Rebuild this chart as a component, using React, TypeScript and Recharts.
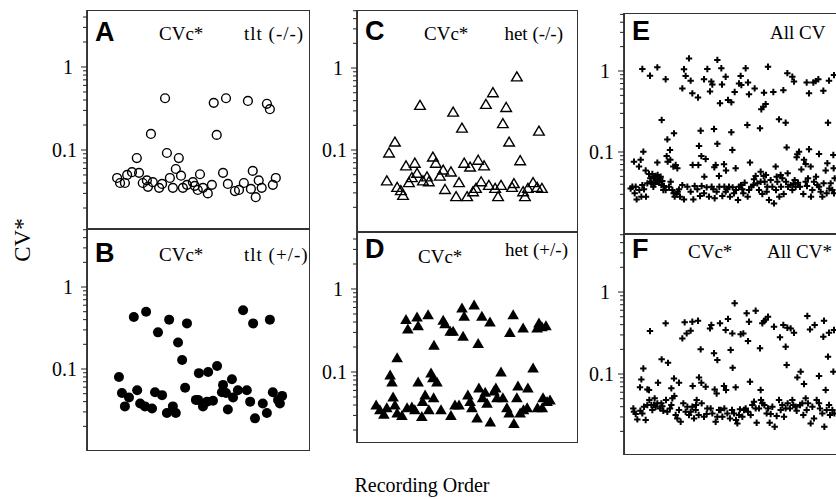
import React from "react";
import { ScatterChart, Scatter, XAxis, YAxis } from "recharts";

// Recording order (x) and CV* (y)
const tltNullOrder = [8.1, 8.9, 10.2, 10.8, 12.1, 13.4, 14.0, 15.0, 16.1, 17.2, 16.4, 17.7, 19.4, 20.2, 21.0, 21.5, 22.3, 23.1, 23.9, 24.7, 25.3, 25.8, 26.9, 28.5, 29.0, 30.4, 29.8, 31.2, 32.5, 33.6, 34.1, 34.9, 36.6, 37.4, 37.9, 39.8, 40.9, 42.2, 43.3, 44.1, 44.6, 45.4, 46.2, 47.0, 48.4, 49.2, 50.0, 50.8];
const tltNullCV = [0.046, 0.040, 0.040, 0.050, 0.054, 0.080, 0.053, 0.040, 0.043, 0.156, 0.036, 0.041, 0.035, 0.039, 0.42, 0.092, 0.046, 0.035, 0.059, 0.080, 0.049, 0.035, 0.038, 0.041, 0.037, 0.051, 0.033, 0.035, 0.030, 0.038, 0.37, 0.152, 0.053, 0.42, 0.039, 0.032, 0.033, 0.040, 0.39, 0.034, 0.056, 0.027, 0.043, 0.035, 0.36, 0.31, 0.038, 0.046];

const tltHetOrder = [8.6, 9.4, 10.2, 11.3, 12.6, 13.5, 14.3, 15.9, 15.6, 17.5, 18.3, 19.1, 20.2, 21.5, 22.1, 23.1, 23.9, 24.5, 25.6, 26.4, 26.9, 29.3, 30.1, 31.2, 32.6, 33.9, 35.0, 36.3, 36.6, 37.9, 39.0, 39.3, 40.6, 42.0, 43.0, 43.9, 44.7, 45.2, 47.3, 48.4, 49.2, 50.0, 51.4, 52.5, 29.9, 32.3, 37.4, 51.9];
const tltHetCV = [0.080, 0.051, 0.035, 0.045, 0.43, 0.055, 0.038, 0.50, 0.035, 0.033, 0.052, 0.28, 0.048, 0.029, 0.40, 0.035, 0.029, 0.21, 0.129, 0.059, 0.36, 0.042, 0.089, 0.035, 0.092, 0.041, 0.109, 0.052, 0.064, 0.032, 0.075, 0.045, 0.055, 0.52, 0.055, 0.040, 0.36, 0.025, 0.038, 0.029, 0.40, 0.052, 0.042, 0.047, 0.042, 0.040, 0.051, 0.038];

const hetNullOrder = [8.1, 8.7, 10.3, 10.9, 11.9, 12.5, 13.3, 14.1, 14.9, 15.7, 16.3, 17.1, 17.9, 19.0, 19.5, 20.6, 21.4, 22.5, 23.4, 23.9, 25.5, 26.1, 26.9, 27.7, 28.5, 29.1, 29.9, 30.7, 31.5, 32.3, 32.9, 33.7, 34.5, 35.0, 35.8, 36.9, 37.5, 38.3, 39.1, 39.6, 40.5, 41.3, 42.1, 42.6, 43.4, 44.3, 45.1, 45.6, 46.4, 47.8, 48.9, 49.4, 50.2];
const hetNullCV = [0.042, 0.092, 0.125, 0.035, 0.032, 0.028, 0.064, 0.040, 0.046, 0.069, 0.052, 0.35, 0.042, 0.047, 0.041, 0.082, 0.069, 0.048, 0.057, 0.033, 0.054, 0.29, 0.027, 0.040, 0.185, 0.069, 0.027, 0.062, 0.031, 0.034, 0.075, 0.041, 0.064, 0.36, 0.037, 0.50, 0.034, 0.027, 0.037, 0.21, 0.33, 0.125, 0.035, 0.039, 0.78, 0.074, 0.031, 0.027, 0.034, 0.040, 0.035, 0.17, 0.034];

const hetHetOrder = [
  13.3, 13.8, 16.3, 16.6, 19.3, 20.9, 23.4, 23.9, 25.3, 26.1, 28.5, 28.8, 29.1, 31.8, 32.9, 33.9, 36.1, 42.4, 41.5, 45.1, 49.4, 50.2, 51.3, 48.9,
  10.9, 9.0, 20.1, 20.6, 21.7, 16.6, 39.1, 47.8, 43.7, 46.4, 9.5, 9.8,
  5.2, 6.2, 7.3, 8.1, 10.3, 10.9, 12.2, 13.6, 14.9, 15.7, 17.6, 17.8, 18.5, 19.5, 20.8, 22.8, 25.5, 26.6, 27.7, 30.1, 30.7, 31.2, 32.6, 33.1, 34.1, 34.8, 35.3, 36.2, 37.2, 37.7, 38.0, 39.6, 40.7, 41.3, 42.6, 43.4, 44.3, 45.2, 46.2, 49.0, 50.3, 50.5, 51.6, 52.4,
];
const hetHetCV = [
  0.43, 0.33, 0.46, 0.36, 0.49, 0.21, 0.42, 0.38, 0.31, 0.31, 0.59, 0.27, 0.47, 0.64, 0.22, 0.47, 0.40, 0.49, 0.30, 0.34, 0.39, 0.35, 0.36, 0.34,
  0.148, 0.092, 0.097, 0.085, 0.076, 0.076, 0.100, 0.112, 0.068, 0.064, 0.076, 0.050,
  0.040, 0.035, 0.031, 0.037, 0.040, 0.032, 0.030, 0.037, 0.038, 0.035, 0.029, 0.044, 0.053, 0.035, 0.049, 0.035, 0.030, 0.040, 0.040, 0.053, 0.044, 0.037, 0.028, 0.064, 0.049, 0.057, 0.042, 0.025, 0.059, 0.064, 0.049, 0.049, 0.037, 0.032, 0.024, 0.049, 0.032, 0.035, 0.037, 0.037, 0.037, 0.049, 0.044, 0.046,
];

const allCvOrder = [
  5.5, 7.8, 10.0, 12.5, 17.5, 18.0, 18.5, 19.5, 20.0, 20.5, 22.2, 24.0, 25.0, 25.8, 26.2, 26.5, 28.0, 28.8, 29.2, 29.4, 30.5, 31.2, 32.2, 33.2, 35.0, 34.5, 35.2, 36.5, 37.2, 37.5, 39.2, 42.0, 41.2, 41.8, 42.5, 43.2, 44.8, 47.8, 49.0, 50.5, 51.0, 54.8, 55.5, 56.8, 57.5, 58.3, 59.8, 61.5, 63.0,
  11.3, 13.0, 13.8, 15.0, 23.0, 22.5, 23.2, 24.5, 27.0, 28.0, 32.2, 32.5, 37.0, 40.8, 46.5, 48.5, 48.8, 52.0, 52.5, 55.5, 58.5, 61.2, 62.8,
  5.8, 3.0, 4.5, 5.0, 6.5, 10.0, 12.8, 13.1, 13.9, 14.8, 15.5, 16.0, 20.6, 22.3, 24.1, 27.5, 27.1, 28.5, 30.0, 30.6, 33.5, 37.8, 41.0, 41.9, 42.6, 45.5, 45.8, 47.0, 49.1, 51.8, 54.0, 53.2, 54.5, 56.0, 57.6, 60.5, 61.0, 62.9,
  2.5, 3.2, 3.8, 4.6, 6.0, 6.6, 7.0, 7.9, 8.5, 9.0, 9.5, 10.1, 10.5, 11.2, 11.8, 14.0, 14.9, 15.2, 16.1, 16.8, 17.5, 18.0, 19.0, 20.0, 20.8, 21.2, 22.0, 23.3, 24.0, 24.8, 25.5, 26.3, 27.2, 28.6, 29.5, 30.1, 31.0, 31.8, 32.6, 33.6, 34.2, 35.1, 35.5, 36.2, 37.1, 38.2, 39.0, 39.5, 40.0, 40.5, 41.5, 42.2, 43.0, 43.5, 44.0, 45.0, 45.6, 46.6, 47.1, 47.9, 48.6, 49.2, 50.0, 50.8, 51.5, 52.2, 53.8, 54.9, 55.2, 56.1, 56.5, 58.0, 59.0, 59.9, 60.8, 61.6, 62.5, 63.2, 7.5, 8.0, 9.2, 10.8, 11.5, 12.0,
  8.2, 8.8, 9.5, 10.2, 11.0, 12.5, 13.5, 14.5, 15.8, 16.5, 22.8, 26.8, 27.8, 30.5, 31.5, 33.0, 34.5, 35.8, 37.5, 38.8, 41.0, 42.8, 44.5, 46.0, 47.5, 50.5, 51.2, 52.8, 54.5, 57.0, 58.5, 59.5, 62.0, 63.0, 2.0, 3.5, 5.2, 5.5,
];
const allCvValues = [
  1.06, 0.875, 1.11, 0.79, 0.61, 1.05, 0.87, 1.43, 0.76, 0.53, 0.47, 0.79, 1.06, 0.56, 0.74, 0.68, 1.37, 0.40, 1.08, 0.68, 0.85, 0.44, 0.41, 0.55, 0.87, 0.70, 0.67, 1.08, 0.72, 0.515, 0.61, 0.54, 0.336, 0.363, 0.39, 1.13, 0.55, 0.58, 0.94, 0.85, 0.74, 0.72, 0.53, 0.72, 0.75, 0.79, 0.57, 0.76, 0.89,
  0.248, 0.143, 0.106, 0.170, 0.183, 0.119, 0.089, 0.082, 0.192, 0.126, 0.175, 0.106, 0.215, 0.196, 0.253, 0.23, 0.114, 0.0936, 0.101, 0.108, 0.0945, 0.23, 0.092,
  0.101, 0.076, 0.066, 0.080, 0.059, 0.074, 0.089, 0.076, 0.080, 0.066, 0.069, 0.063, 0.069, 0.069, 0.0496, 0.069, 0.0647, 0.0506, 0.0705, 0.059, 0.063, 0.074, 0.057, 0.0506, 0.052, 0.066, 0.0496, 0.052, 0.0545, 0.086, 0.080, 0.061, 0.071, 0.066, 0.0496, 0.059, 0.0725, 0.063,
  0.0373, 0.0309, 0.026, 0.034, 0.0346, 0.0281, 0.041, 0.0473, 0.0535, 0.0496, 0.045, 0.052, 0.043, 0.039, 0.034, 0.043, 0.0309, 0.0281, 0.0324, 0.0281, 0.039, 0.026, 0.0373, 0.0324, 0.026, 0.038, 0.0346, 0.038, 0.0309, 0.0366, 0.0281, 0.0373, 0.0268, 0.0373, 0.0286, 0.0373, 0.0346, 0.0281, 0.0366, 0.034, 0.0255, 0.039, 0.0346, 0.0418, 0.0281, 0.0373, 0.046, 0.0506, 0.041, 0.034, 0.0303, 0.043, 0.0373, 0.0255, 0.045, 0.0232, 0.034, 0.0281, 0.0373, 0.0303, 0.043, 0.0373, 0.039, 0.0403, 0.0373, 0.0418, 0.0303, 0.038, 0.0473, 0.0281, 0.034, 0.039, 0.0324, 0.041, 0.0309, 0.0355, 0.034, 0.0473, 0.0535, 0.043, 0.0403, 0.0473, 0.044, 0.038,
  0.041, 0.0373, 0.0506, 0.043, 0.0496, 0.034, 0.0373, 0.034, 0.0303, 0.0346, 0.0286, 0.0346, 0.0324, 0.0324, 0.0373, 0.0309, 0.0373, 0.0309, 0.034, 0.039, 0.043, 0.0324, 0.0373, 0.043, 0.0473, 0.034, 0.045, 0.0373, 0.043, 0.043, 0.0373, 0.0281, 0.041, 0.0309, 0.0355, 0.0373, 0.0281, 0.039,
];

const allCvStarOrder = [
  7.8, 12.5, 17.5, 18.2, 18.8, 20.0, 20.5, 22.2, 23.0, 25.8, 26.2, 27.0, 28.0, 28.8, 30.5, 31.2, 32.0, 32.5, 32.6, 33.2, 35.0, 35.8, 36.8, 37.2, 37.5, 39.5, 40.8, 41.5, 42.0, 42.5, 43.2, 45.0, 46.8, 47.8, 48.5, 49.0, 50.0, 51.0, 48.8, 55.0, 55.8, 57.2, 60.0, 59.8, 61.5, 63.0, 61.2,
  5.8, 5.2, 4.8, 7.0, 7.5, 10.2, 11.3, 13.2, 14.2, 15.0, 16.5, 20.6, 22.5, 23.2, 24.5, 27.2, 27.8, 30.0, 30.6, 33.5, 37.8, 41.0, 52.0, 53.0, 54.0, 58.5, 60.5, 62.8,
  2.8, 3.5, 4.0, 4.9, 6.0, 6.5, 7.6, 8.2, 9.2, 10.0, 10.8, 11.8, 12.6, 13.8, 14.5, 15.1, 15.5, 16.0, 17.0, 17.8, 18.5, 19.5, 20.5, 21.0, 21.8, 22.4, 23.3, 24.0, 24.8, 26.0, 27.5, 28.5, 29.5, 30.1, 31.0, 31.8, 32.4, 33.6, 34.0, 34.8, 35.5, 36.5, 38.0, 39.0, 39.8, 40.5, 41.1, 42.1, 42.8, 43.7, 44.5, 45.2, 45.8, 46.5, 47.0, 48.0, 49.1, 49.8, 50.8, 51.8, 52.8, 53.8, 54.5, 55.2, 56.0, 57.0, 57.8, 58.8, 60.1, 60.8, 61.8, 63.1, 9.0, 11.5, 21.5,
  3.0, 5.5, 7.0, 8.5, 9.5, 11.2, 13.0, 14.2, 16.5, 19.0, 20.0, 21.6, 25.0, 26.5, 28.0, 29.0, 33.0, 34.5, 36.0, 37.2, 38.5, 39.5, 41.5, 43.2, 44.0, 47.5, 48.5, 50.5, 51.5, 53.5, 54.8, 56.5, 58.5, 59.5, 61.5, 62.5,
];
const allCvStarValues = [
  0.334, 0.415, 0.272, 0.427, 0.313, 0.338, 0.435, 0.447, 0.20, 0.36, 0.396, 0.179, 0.148, 0.415, 0.344, 0.47, 0.196, 0.313, 0.119, 0.73, 0.305, 0.313, 0.55, 0.252, 0.435, 0.59, 0.206, 0.415, 0.443, 0.46, 0.50, 0.378, 0.28, 0.396, 0.215, 0.367, 0.36, 0.319, 0.129, 0.51, 0.35, 0.396, 0.447, 0.285, 0.319, 0.344, 0.163,
  0.117, 0.086, 0.0688, 0.065, 0.0638, 0.0784, 0.151, 0.137, 0.0669, 0.0885, 0.0784, 0.0714, 0.091, 0.0784, 0.070, 0.065, 0.058, 0.0714, 0.0638, 0.0688, 0.0807, 0.0638, 0.091, 0.107, 0.0755, 0.0946, 0.0638, 0.107,
  0.0381, 0.0325, 0.028, 0.0357, 0.040, 0.0275, 0.0482, 0.0419, 0.0505, 0.0439, 0.0381, 0.0357, 0.0482, 0.0381, 0.0505, 0.054, 0.0316, 0.0288, 0.0262, 0.0439, 0.0347, 0.0316, 0.040, 0.0288, 0.0482, 0.0316, 0.0439, 0.0302, 0.0325, 0.0381, 0.0262, 0.0364, 0.0302, 0.0381, 0.0331, 0.0288, 0.0364, 0.0275, 0.025, 0.0371, 0.0302, 0.0381, 0.0316, 0.046, 0.0255, 0.0381, 0.0482, 0.0419, 0.0331, 0.0255, 0.040, 0.0228, 0.0308, 0.0482, 0.0364, 0.0302, 0.0439, 0.0381, 0.0419, 0.0357, 0.0419, 0.0316, 0.0505, 0.0439, 0.025, 0.0288, 0.0482, 0.0381, 0.0228, 0.0364, 0.0316, 0.0331, 0.0419, 0.0405, 0.0364,
  0.0347, 0.0331, 0.0419, 0.0364, 0.040, 0.0439, 0.0347, 0.0419, 0.0364, 0.040, 0.0347, 0.0419, 0.0381, 0.0331, 0.0302, 0.0364, 0.0331, 0.0316, 0.0364, 0.0347, 0.0419, 0.0381, 0.0439, 0.0381, 0.0325, 0.0419, 0.0381, 0.0482, 0.040, 0.0439, 0.0364, 0.040, 0.0439, 0.0331, 0.0419, 0.0364,
];

// log axis tick positions (labels only on 0.1 and 1)
const logTicks = [0.02, 0.03, 0.04, 0.05, 0.06, 0.07, 0.08, 0.09, 0.1, 0.2, 0.3, 0.4, 0.5, 0.6, 0.7, 0.8, 0.9, 1, 2, 3, 4, 5];

const SERIF = "'Liberation Serif', 'Times New Roman', serif";
const SANS = "'Liberation Sans', Arial, sans-serif";

const toPoints = (xs: number[], ys: number[]) => xs.map((x, i) => ({ x, y: ys[i] }));

const LogTick = (props: any) => {
  const { x, y, payload } = props;
  const v = payload.value;
  const major = v === 1 || v === 0.1;
  return (
    <g>
      <line x1={x - (major ? 6 : 4)} x2={x} y1={y} y2={y} stroke="#222" strokeWidth={1} />
      {major && (
        <text x={x - (v === 1 ? 14 : 10)} y={y} dy="0.36em" textAnchor="end" fontFamily={SERIF} fontSize={20} fill="#000">
          {v === 1 ? "1" : "0.1"}
        </text>
      )}
    </g>
  );
};

const OpenCircle = (p: any) => <circle cx={p.cx} cy={p.cy} r={4.4} fill="none" stroke="#000" strokeWidth={1.4} />;
const FilledCircle = (p: any) => <circle cx={p.cx} cy={p.cy} r={5} fill="#000" />;
const OpenTriangle = (p: any) => (
  <path d={`M${p.cx},${p.cy - 5} L${p.cx + 5.3},${p.cy + 4} L${p.cx - 5.3},${p.cy + 4} Z`} fill="none" stroke="#000" strokeWidth={1.4} />
);
const FilledTriangle = (p: any) => (
  <path d={`M${p.cx},${p.cy - 5.5} L${p.cx + 5.8},${p.cy + 4.5} L${p.cx - 5.8},${p.cy + 4.5} Z`} fill="#000" />
);
const Plus = (p: any) => (
  <path d={`M${p.cx - 3.2},${p.cy} H${p.cx + 3.2} M${p.cx},${p.cy - 3.2} V${p.cy + 3.2}`} stroke="#000" strokeWidth={2} />
);

interface PanelProps {
  left: number;
  top: number;
  width: number;
  height: number;
  yMin: number;
  yMax: number;
  xMax: number;
  data: { x: number; y: number }[];
  shape: (p: any) => React.ReactElement;
}

const Panel = ({ left, top, width, height, yMin, yMax, xMax, data, shape }: PanelProps) => {
  const axisW = 60;
  const ticks = logTicks.filter((t) => t > yMin && t < yMax);
  return (
    <>
      <div style={{ position: "absolute", left: left - axisW, top: top - 2 }}>
        <ScatterChart width={width + axisW + 2} height={height + 4} margin={{ top: 2, right: 2, bottom: 2, left: 0 }}>
          <XAxis type="number" dataKey="x" domain={[0, xMax]} hide allowDataOverflow />
          <YAxis
            type="number"
            dataKey="y"
            scale="log"
            domain={[yMin, yMax]}
            allowDataOverflow
            ticks={ticks}
            interval={0}
            width={axisW}
            tickSize={0}
            tickMargin={0}
            tickLine={false}
            axisLine={{ stroke: "#000", strokeWidth: 1.5 }}
            tick={(p: any) => <LogTick {...p} />}
          />
          <Scatter data={data} shape={shape} isAnimationActive={false} />
        </ScatterChart>
      </div>
      <div
        style={{
          position: "absolute",
          left,
          top,
          width,
          height,
          border: "1px solid #333",
          boxSizing: "border-box",
          pointerEvents: "none",
        }}
      />
    </>
  );
};

const letter = (x: number, y: number, s: string) => (
  <text x={x} y={y} fontFamily={SANS} fontWeight="bold" fontSize={27}>{s}</text>
);
const note = (x: number, y: number, s: string, anchor: "start" | "end" = "start", spacing = 0) => (
  <text x={x} y={y} fontFamily={SERIF} fontSize={19} textAnchor={anchor} letterSpacing={spacing}>{s}</text>
);

export default function App() {
  return (
    <div style={{ position: "absolute", left: 0, top: 0, width: 836, height: 499, overflow: "hidden", background: "#fff" }}>
      <Panel left={87} top={10} width={223} height={219} yMin={0.01117} yMax={4.86} xMax={60} data={toPoints(tltNullOrder, tltNullCV)} shape={OpenCircle} />
      <Panel left={87} top={229} width={223} height={222} yMin={0.01} yMax={5.1} xMax={60} data={toPoints(tltHetOrder, tltHetCV)} shape={FilledCircle} />
      <Panel left={357} top={10} width={221} height={222} yMin={0.01} yMax={5.1} xMax={60} data={toPoints(hetNullOrder, hetNullCV)} shape={OpenTriangle} />
      <Panel left={357} top={232} width={221} height={211} yMin={0.01395} yMax={4.86} xMax={60} data={toPoints(hetHetOrder, hetHetCV)} shape={FilledTriangle} />
      <Panel left={624} top={13} width={240} height={221} yMin={0.00972} yMax={5.2} xMax={72} data={toPoints(allCvOrder, allCvValues)} shape={Plus} />
      <Panel left={624} top={234} width={240} height={221} yMin={0.0103} yMax={5.1} xMax={72} data={toPoints(allCvStarOrder, allCvStarValues)} shape={Plus} />

      <svg width={836} height={499} style={{ position: "absolute", left: 0, top: 0, pointerEvents: "none" }}>
        {letter(95, 41, "A")}
        {note(159, 40, "CVc*")}
        {note(244, 40, "tlt (-/-)", "start", 1)}
        {letter(95, 262, "B")}
        {note(159, 261, "CVc*")}
        {note(244, 261, "tlt (+/-)", "start", 1)}
        {letter(365, 40, "C")}
        {note(424, 40, "CVc*")}
        {note(563, 40, "het (-/-)", "end")}
        {letter(365, 258, "D")}
        {note(418, 263, "CVc*")}
        {note(568, 256, "het (+/-)", "end")}
        {letter(632, 40, "E")}
        {note(770, 39, "All CV")}
        {letter(632, 258, "F")}
        {note(688, 258, "CVc*")}
        {note(767, 258, "All CV*")}
        <text x={0} y={0} transform="translate(30,240) rotate(-90)" textAnchor="middle" fontFamily={SERIF} fontSize={23}>CV*</text>
        <text x={422} y={492} textAnchor="middle" fontFamily={SERIF} fontSize={20}>Recording Order</text>
      </svg>
    </div>
  );
}
